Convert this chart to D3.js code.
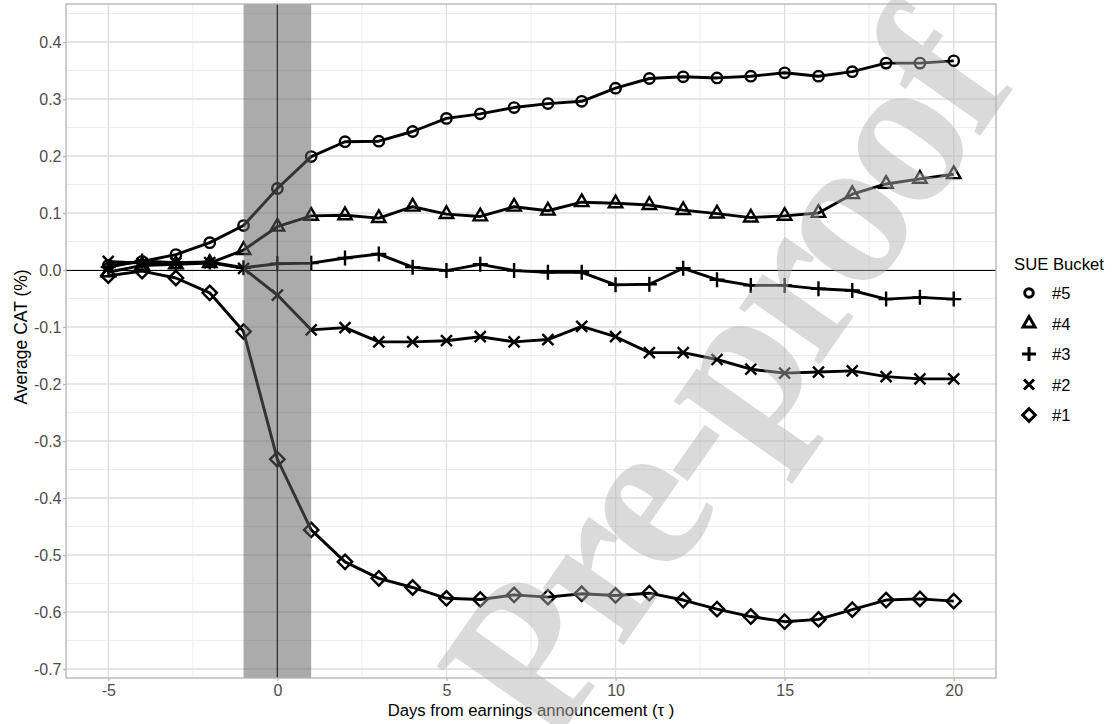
<!DOCTYPE html>
<html><head><meta charset="utf-8">
<script src="https://cdn.jsdelivr.net/npm/d3@7"></script>
<style>body{margin:0;background:#fff}svg{display:block}text{font-family:"Liberation Sans",Arial,sans-serif}</style>
</head><body><svg id="c" width="1112" height="724"></svg>
<script>
const days = d3.range(-5, 21);
const bucketLabels = ["#5", "#4", "#3", "#2", "#1"];
const s5 = [0.008,0.015,0.027,0.048,0.078,0.143,0.199,0.225,0.226,0.243,0.266,0.274,0.285,0.292,0.296,0.319,0.336,0.339,0.337,0.340,0.346,0.340,0.348,0.363,0.363,0.367];
const s4 = [-0.004,0.008,0.010,0.012,0.035,0.076,0.095,0.096,0.091,0.111,0.098,0.094,0.111,0.104,0.119,0.117,0.114,0.105,0.099,0.092,0.095,0.100,0.133,0.151,0.160,0.168];
const s3 = [0.005,0.016,0.013,0.014,0.004,0.011,0.012,0.021,0.028,0.005,-0.001,0.010,-0.001,-0.004,-0.004,-0.026,-0.025,0.003,-0.017,-0.027,-0.027,-0.033,-0.036,-0.051,-0.048,-0.051];
const s2 = [0.015,0.012,0.012,0.013,0.003,-0.044,-0.105,-0.101,-0.126,-0.126,-0.124,-0.117,-0.126,-0.122,-0.099,-0.117,-0.145,-0.145,-0.157,-0.174,-0.181,-0.179,-0.177,-0.187,-0.191,-0.191];
const s1 = [-0.010,-0.002,-0.014,-0.040,-0.108,-0.332,-0.456,-0.512,-0.541,-0.557,-0.576,-0.578,-0.570,-0.574,-0.568,-0.571,-0.567,-0.579,-0.595,-0.608,-0.617,-0.613,-0.596,-0.579,-0.577,-0.581];
const xTicks = [-5, 0, 5, 10, 15, 20];
const yTicks = [-0.7,-0.6,-0.5,-0.4,-0.3,-0.2,-0.1,0.0,0.1,0.2,0.3,0.4];
const eventWindow = [-1, 1];

const svg = d3.select("#c");
const L = 66, R = 996, T = 4, B = 678;
const x = d3.scaleLinear().domain([-6.25, 21.25]).range([L, R]);
const y = d3.scaleLinear().domain([-0.7158, 0.4667]).range([B, T]);

const sym = {
  circle: {draw(c, s){ const r = s; c.moveTo(r,0); c.arc(0,0,r,0,2*Math.PI); }},
  triangle: {draw(c, s){ const h = s*1.732/2; c.moveTo(0,-h*2/3); c.lineTo(s/2,h/3); c.lineTo(-s/2,h/3); c.closePath(); }},
  plus: {draw(c, s){ c.moveTo(-s,0); c.lineTo(s,0); c.moveTo(0,-s); c.lineTo(0,s); }},
  cross: {draw(c, s){ c.moveTo(-s,-s); c.lineTo(s,s); c.moveTo(-s,s); c.lineTo(s,-s); }},
  diamond: {draw(c, s){ c.moveTo(0,-s); c.lineTo(s,0); c.lineTo(0,s); c.lineTo(-s,0); c.closePath(); }}
};
const series = [
  {label: bucketLabels[0], values: s5, type: sym.circle, size: 5.2, leg: 4.3},
  {label: bucketLabels[1], values: s4, type: sym.triangle, size: 13.5, leg: 12},
  {label: bucketLabels[2], values: s3, type: sym.plus, size: 7.5, leg: 7},
  {label: bucketLabels[3], values: s2, type: sym.cross, size: 5.5, leg: 5},
  {label: bucketLabels[4], values: s1, type: sym.diamond, size: 7.2, leg: 6.3}
];

// grid
const g = svg.append("g");
const minorY = d3.range(-0.65, 0.46, 0.1);
const minorX = [-2.5, 2.5, 7.5, 12.5, 17.5];
g.selectAll(".my").data(minorY).join("line").attr("x1",L).attr("x2",R)
  .attr("y1",d=>y(d)).attr("y2",d=>y(d)).attr("stroke","#ebebeb").attr("stroke-width",0.9);
g.selectAll(".mx").data(minorX).join("line").attr("y1",T).attr("y2",B)
  .attr("x1",d=>x(d)).attr("x2",d=>x(d)).attr("stroke","#ebebeb").attr("stroke-width",0.9);
g.selectAll(".Y").data(yTicks).join("line").attr("x1",L).attr("x2",R)
  .attr("y1",d=>y(d)).attr("y2",d=>y(d)).attr("stroke","#dedede").attr("stroke-width",1.3);
g.selectAll(".X").data(xTicks).join("line").attr("y1",T).attr("y2",B)
  .attr("x1",d=>x(d)).attr("x2",d=>x(d)).attr("stroke","#dedede").attr("stroke-width",1.3);

// reference lines
svg.append("line").attr("x1",L).attr("x2",R).attr("y1",Math.round(y(0))+0.5).attr("y2",Math.round(y(0))+0.5)
  .attr("stroke","#000").attr("stroke-width",1);
svg.append("line").attr("x1",x(0)).attr("x2",x(0)).attr("y1",T).attr("y2",B).attr("stroke","#000").attr("stroke-width",1.3);

// series
const line = d3.line().x((d,i)=>x(days[i])).y(d=>y(d));
series.forEach(s => {
  svg.append("path").datum(s.values).attr("d", line).attr("fill","none")
    .attr("stroke","#000").attr("stroke-width",2.9).attr("stroke-linejoin","round");
  const sy = d3.symbol().type(s.type).size(s.size);
  svg.selectAll(null).data(s.values).join("path")
    .attr("transform",(d,i)=>`translate(${x(days[i])},${y(d)})`)
    .attr("d", sy()).attr("fill","none").attr("stroke","#000").attr("stroke-width",2.4);
});

// event window overlay
svg.append("rect").attr("x",x(eventWindow[0])).attr("width",x(eventWindow[1])-x(eventWindow[0]))
  .attr("y",T).attr("height",B-T).attr("fill","#606060").attr("fill-opacity",0.53);

// panel border
svg.append("rect").attr("x",L).attr("y",T).attr("width",R-L).attr("height",B-T)
  .attr("fill","none").attr("stroke","#b3b3b3").attr("stroke-width",1.3);

// axes
const yAxis = d3.axisLeft(y).tickValues(yTicks).tickSize(3).tickPadding(1.5)
  .tickFormat(d => d3.format(".1f")(d).replace("−","-"));
const ya = svg.append("g").attr("transform",`translate(${L},0)`).call(yAxis);
const xAxis = d3.axisBottom(x).tickValues(xTicks).tickSize(3).tickPadding(4)
  .tickFormat(d => String(d));
const xa = svg.append("g").attr("transform",`translate(0,${B})`).call(xAxis);
[ya, xa].forEach(a => {
  a.select(".domain").remove();
  a.selectAll(".tick line").attr("stroke","#b3b3b3").attr("stroke-width",1.2);
  a.selectAll(".tick text").attr("fill","#4d4d4d").style("font-size","16px").style("font-family","Liberation Sans, Arial, sans-serif");
});

svg.append("text").attr("transform","translate(27,337) rotate(-90)").attr("text-anchor","middle")
  .style("font-size","17.5px").text("Average CAT (%)");
svg.append("text").attr("x",531).attr("y",716).attr("text-anchor","middle")
  .style("font-size","16.7px").text("Days from earnings announcement (τ )");

// legend
const lg = svg.append("g");
lg.append("text").attr("x",1014).attr("y",270).style("font-size","16.7px").text("SUE Bucket");
series.forEach((s,i) => {
  const cy = 293 + i*30.5;
  lg.append("path").attr("transform",`translate(1029,${cy})`)
    .attr("d", d3.symbol().type(s.type).size(s.leg)()).attr("fill","none")
    .attr("stroke","#000").attr("stroke-width",3);
  lg.append("text").attr("x",1052).attr("y",cy).attr("dominant-baseline","central")
    .style("font-size","16.5px").text(s.label);
});

// watermark
svg.append("text").attr("transform","translate(722,378) rotate(-55)")
  .attr("text-anchor","middle").attr("dominant-baseline","central")
  .style("font-family","Liberation Serif, Times New Roman, serif").style("font-weight","bold")
  .style("letter-spacing","-9px")
  .style("font-size","215px").attr("fill","#b1b1b1").attr("fill-opacity",0.48).text("Pre-proof");
</script></body></html>
